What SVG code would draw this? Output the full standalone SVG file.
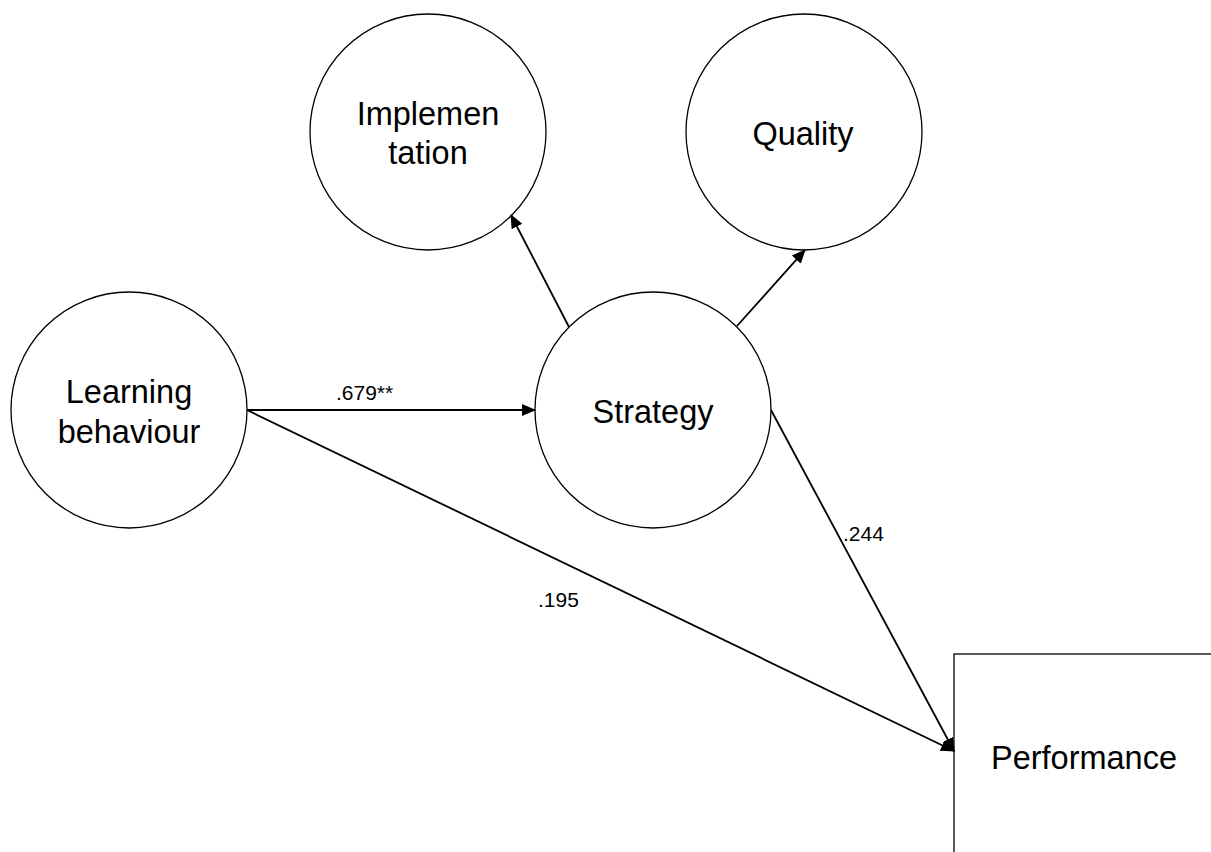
<svg xmlns="http://www.w3.org/2000/svg" width="1211" height="852" viewBox="0 0 1211 852">
  <style>
    .node { fill: #ffffff; stroke: #000000; stroke-width: 1.3; }
    .label { font-family: "Liberation Sans", Arial, sans-serif; font-size: 32.5px; fill: #000000; text-anchor: middle; }
    .edge { stroke: #000000; stroke-width: 1.8; fill: none; marker-end: url(#arrow); }
    .coef { font-family: "Liberation Sans", Arial, sans-serif; font-size: 21px; fill: #000000; }
  </style>
  <defs>
    <marker id="arrow" markerUnits="userSpaceOnUse" markerWidth="14" markerHeight="12" refX="13" refY="6" orient="auto">
      <path d="M0,0 L14,6 L0,12 Z" fill="#000000"/>
    </marker>
  </defs>
  <rect width="1211" height="852" fill="#ffffff"/>

  <!-- latent variables and outcome -->
  <g id="node-implementation">
    <circle class="node" cx="428" cy="132" r="118"/>
    <text class="label" x="428" y="125">Implemen</text>
    <text class="label" x="428" y="164">tation</text>
  </g>
  <g id="node-quality">
    <circle class="node" cx="804" cy="132" r="118"/>
    <text class="label" x="803" y="145">Quality</text>
  </g>
  <g id="node-learning">
    <circle class="node" cx="129" cy="410" r="118"/>
    <text class="label" x="129" y="403">Learning</text>
    <text class="label" x="129" y="443">behaviour</text>
  </g>
  <g id="node-strategy">
    <circle class="node" cx="653" cy="410" r="118"/>
    <text class="label" x="653" y="423">Strategy</text>
  </g>
  <g id="node-performance">
    <rect class="node" x="954" y="654" width="300" height="260"/>
    <text class="label" x="1084" y="769">Performance</text>
  </g>

  <!-- paths with coefficients -->
  <g id="connectors">
    <line class="edge" x1="569" y1="327" x2="511" y2="215"/>
    <line class="edge" x1="737" y1="326" x2="805" y2="250"/>
    <line class="edge" x1="247" y1="410" x2="535" y2="410"/>
    <line class="edge" x1="247" y1="410" x2="954" y2="751"/>
    <line class="edge" x1="771" y1="410" x2="954" y2="751"/>
    <text class="coef" x="336" y="400">.679**</text>
    <text class="coef" x="843" y="541">.244</text>
    <text class="coef" x="538" y="607">.195</text>
  </g>
</svg>
